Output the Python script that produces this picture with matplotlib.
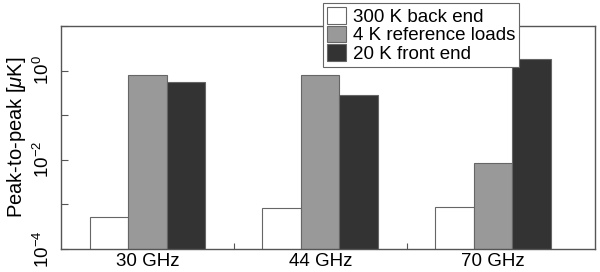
import matplotlib
import numpy as np

matplotlib.use("Agg")
import matplotlib.pyplot as plt  # noqa: E402
from matplotlib.ticker import FixedLocator, NullFormatter  # noqa: E402

plt.rcParams["font.family"] = ["Liberation Sans", "DejaVu Sans"]
plt.rcParams["mathtext.fontset"] = "custom"
plt.rcParams["mathtext.it"] = "Liberation Sans:italic"
plt.rcParams["mathtext.rm"] = "Liberation Sans"

# peak-to-peak fluctuation per stage, uK
channels = ["30 GHz", "44 GHz", "70 GHz"]
series_names = ["300 K back end", "4 K reference loads", "20 K front end"]
back_end = [5.0e-4, 8.3e-4, 8.7e-4]
ref_loads = [0.80, 0.80, 0.0085]
front_end = [0.56, 0.28, 1.85]
colors = ["white", "#999999", "#333333"]

fig = plt.figure(figsize=(6.0, 2.72), dpi=100)
ax = fig.add_axes([61 / 600, 23 / 272, 534 / 600, 223 / 272])

x = np.arange(1, len(channels) + 1)
width = 0.223
for i, (vals, name, col) in enumerate(zip([back_end, ref_loads, front_end],
                                          series_names, colors)):
    ax.bar(x + (i - 1) * width, vals, width, bottom=1e-5, color=col,
           edgecolor="#666666", linewidth=0.8, label=name)

ax.set_yscale("log")
ax.set_ylim(1e-4, 1e1)
ax.set_xlim(0.5, 3.59)

ax.yaxis.set_major_locator(FixedLocator([1e-4, 1e-3, 1e-2, 1e-1, 1e0, 1e1]))
ax.yaxis.set_major_formatter(
    matplotlib.ticker.FuncFormatter(
        lambda v, p: {1e-4: r"$10^{-4}$", 1e-2: r"$10^{-2}$", 1e0: r"$10^{0}$"}.get(v, "")
    )
)
ax.yaxis.set_minor_formatter(NullFormatter())
ax.yaxis.set_minor_locator(FixedLocator([]))
ax.tick_params(axis="y", direction="in", length=5, width=0.8, color="#555555",
               labelsize=13.5, labelrotation=90, right=False, pad=6)
for lab in ax.get_yticklabels():
    lab.set_va("center")

ax.set_xticks(x)
ax.set_xticklabels(channels)
ax.xaxis.set_minor_locator(FixedLocator([1.5, 2.5]))
ax.tick_params(axis="x", which="major", length=0, labelsize=13.5, pad=3)
ax.tick_params(axis="x", which="minor", direction="in", length=4, width=0.8,
               color="#555555")

for sp in ax.spines.values():
    sp.set_color("#555555")
    sp.set_linewidth(1.0)

ax.set_ylabel(r"Peak-to-peak [$\mu$K]", fontsize=14.5, labelpad=3)

leg = fig.legend(loc="upper left", bbox_to_anchor=(323 / 600, 1 - 3 / 272),
                 fontsize=13.5, fancybox=False, framealpha=1,
                 edgecolor="#666666", handlelength=1.0, handleheight=1.0,
                 handletextpad=0.4, borderpad=0.2, labelspacing=0.0,
                 borderaxespad=0)
leg.get_frame().set_linewidth(0.8)

fig.savefig("out.png", dpi=100)
plt.close(fig)
